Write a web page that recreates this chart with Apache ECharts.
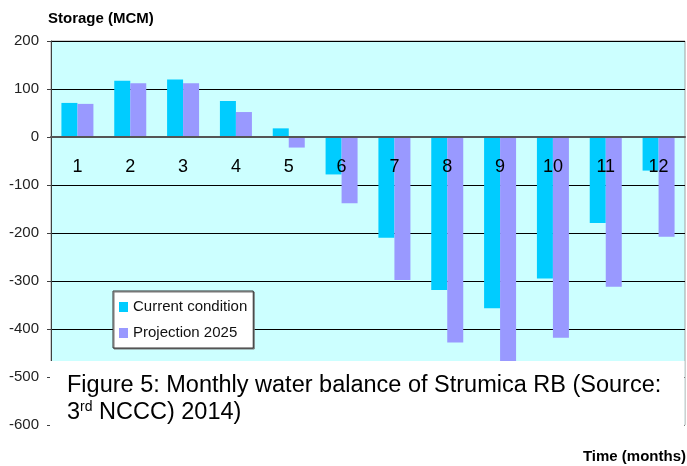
<!DOCTYPE html>
<html>
<head>
<meta charset="utf-8">
<script src="https://cdn.jsdelivr.net/npm/echarts@6/dist/echarts.min.js"></script>
<style>
    html, body { margin: 0; padding: 0; background: #fff; }
    #chart { width: 687px; height: 466px; }
</style>
</head>
<body>
<div id="chart"></div>
<script>
// values (MCM)
const months = ['1', '2', '3', '4', '5', '6', '7', '8', '9', '10', '11', '12'];
const currentCondition = [71, 117, 120, 75, 18, -78, -210, -319, -357, -295, -179, -70];
const projection2025 = [69, 112, 112, 52, -22, -138, -298, -428, -490, -418, -312, -208];
const seriesNames = ['Current condition', 'Projection 2025'];

const FONT = '"Liberation Sans", Arial, sans-serif';

// plot box; the month axis sits on the zero line
const GRID_TOP = 41, GRID_BOTTOM = 41, Y_MIN = -600, Y_MAX = 200;
const plotHeight = 466 - GRID_TOP - GRID_BOTTOM;
const zeroOffset = -plotHeight * (0 - Y_MIN) / (Y_MAX - Y_MIN);

let chart = echarts.init(document.getElementById('chart'));

chart.setOption({
    animation: false,
    textStyle: { fontFamily: FONT },
    grid: {
        left: 51, right: 2, top: GRID_TOP, bottom: GRID_BOTTOM,
        show: true,
        backgroundColor: '#ccffff',
        borderColor: '#a0a0a0',
        borderWidth: 1
    },
    legend: {
        orient: 'vertical',
        left: 113, top: 291,
        padding: [8, 6, 7, 6],
        itemGap: 10,
        itemWidth: 9, itemHeight: 10,
        icon: 'rect',
        backgroundColor: '#fff',
        borderColor: '#333',
        borderWidth: 1,
        shadowColor: '#777',
        shadowOffsetX: 1,
        shadowOffsetY: 1,
        textStyle: { fontFamily: FONT, fontSize: 15, color: '#111', lineHeight: 16 },
        data: seriesNames
    },
    xAxis: {
        type: 'category',
        data: months,
        z: 5,
        position: 'bottom',
        offset: zeroOffset,
        axisLine: { onZero: false, lineStyle: { color: '#555', width: 2 } },
        axisTick: { inside: true, length: 5, lineStyle: { color: '#222' } },
        axisLabel: { fontSize: 18, color: '#000', margin: 21, fontFamily: FONT }
    },
    yAxis: {
        type: 'value',
        min: Y_MIN, max: Y_MAX, interval: 100,
        axisLine: { show: true, lineStyle: { color: '#404040' } },
        axisTick: { show: true, length: 4, lineStyle: { color: '#404040' } },
        axisLabel: { fontSize: 15, color: '#222', margin: 12, fontFamily: FONT },
        splitLine: { lineStyle: { color: '#000', width: 1 } }
    },
    series: [
        {
            name: seriesNames[0], type: 'bar', data: currentCondition,
            barWidth: 16, barGap: '0%',
            itemStyle: { color: '#00ccff' }
        },
        {
            name: seriesNames[1], type: 'bar', data: projection2025,
            barWidth: 16, barGap: '0%',
            itemStyle: { color: '#9999ff' }
        }
    ],
    graphic: [
        {
            type: 'text', left: 48, top: 11,
            style: { text: 'Storage (MCM)', font: 'bold 15px ' + FONT, fill: '#000' }
        },
        {
            type: 'text', right: 1, top: 449,
            style: { text: 'Time (months)', font: 'bold 15px ' + FONT, fill: '#000' }
        },
        // caption box laid over the lower part of the plot
        {
            type: 'rect', z: 100,
            shape: { x: 50, y: 361, width: 634.5, height: 66 },
            style: { fill: '#fff' }
        },
        {
            type: 'text', z: 101, x: 67, y: 386,
            style: {
                text: 'Figure 5: Monthly water balance of Strumica RB (Source:',
                font: '23.5px ' + FONT, fill: '#000', verticalAlign: 'middle'
            }
        },
        {
            type: 'text', z: 101, x: 67, y: 413,
            style: {
                text: '{a|3}{sup|rd}{a| NCCC) 2014)}',
                verticalAlign: 'middle',
                rich: {
                    a: { fontFamily: FONT, fontSize: 23.5, color: '#000', lineHeight: 26 },
                    sup: { fontFamily: FONT, fontSize: 14, color: '#000', padding: [0, 0, 12, 0] }
                }
            }
        }
    ]
});
</script>
</body>
</html>
